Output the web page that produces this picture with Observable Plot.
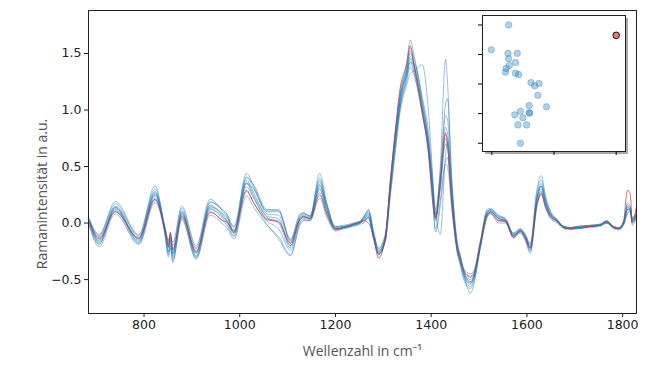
<!DOCTYPE html>
<html>
<head>
<meta charset="utf-8">
<script src="https://cdn.jsdelivr.net/npm/d3@7"></script>
<script src="https://cdn.jsdelivr.net/npm/@observablehq/plot@0.6"></script>
<style>
  html, body { margin: 0; padding: 0; background: white; }
  #wrap { position: relative; width: 659px; height: 366px; overflow: hidden; }
  #main, #inset, #shadow { position: absolute; }
  #main { left: 0; top: 0; }
  #shadow { left: 485px; top: 18px; width: 143px; height: 136px; background: #a9a9a9; }
  #inset { left: 475px; top: 13px; }
</style>
</head>
<body>
<div id="wrap">
  <div id="main"></div>
  <div id="shadow"></div>
  <div id="inset"></div>
</div>
<script>
// Wavenumber grid (cm^-1)
const wavenumbers = [686,706,740,789,823,844,851,855,860,879,
  909,938,965,973,988,1014,1029,1057,1081,1106,
  1126,1133,1147,1167,1182,1200,1217,1238,1252,1259,
  1269,1280,1290,1304,1315,1325,1335,1349,1356,1366,
  1381,1395,1402,1409,1419,1430,1434,1443,1454,1461,
  1468,1482,1489,1503,1517,1524,1541,1555,1572,1586,
  1597,1607,1621,1630,1639,1649,1663,1677,1691,1705,
  1733,1753,1767,1781,1792,1802,1810,1816,1820,1829];

// Highlighted (red) spectrum
const referenceSpectrum = [0.01,-0.14,0.10,-0.13,0.21,-0.07,-0.21,-0.08,-0.23,0.06,
  -0.25,0.10,0.02,0.01,-0.07,0.29,0.18,0.03,0.01,-0.18,
  0.03,0.05,0.04,0.25,0.08,-0.05,-0.04,-0.01,0.01,0.02,
  0.00,-0.13,-0.31,-0.13,0.38,0.82,1.19,1.41,1.57,1.35,
  0.99,0.58,0.23,0.04,0.38,0.80,0.70,0.17,-0.22,-0.33,
  -0.42,-0.48,-0.45,-0.17,0.08,0.09,0.02,0.02,-0.13,-0.07,
  -0.13,-0.22,0.17,0.26,0.14,0.06,0.02,-0.04,-0.05,-0.04,
  -0.03,-0.02,0.01,-0.04,-0.05,0.02,0.29,0.26,0.01,0.15];

// Other (blue) spectra
const blue01 = [0.03,-0.10,0.19,-0.10,0.33,-0.04,-0.15,-0.10,-0.17,0.15,
  -0.20,0.21,0.10,0.06,-0.04,0.44,0.33,0.10,0.10,-0.14,
  0.08,0.09,0.06,0.44,0.18,-0.03,-0.03,0.00,0.02,0.05,
  0.10,-0.10,-0.22,-0.10,0.40,0.80,1.15,1.42,1.62,1.45,
  1.10,0.72,0.40,0.12,0.45,1.05,1.10,0.38,-0.18,-0.30,
  -0.40,-0.45,-0.42,-0.15,0.12,0.13,0.07,0.04,-0.09,-0.05,
  -0.10,-0.18,0.30,0.42,0.24,0.11,0.03,-0.03,-0.04,-0.03,
  -0.02,-0.01,0.02,-0.03,-0.04,0.00,0.18,0.15,0.05,0.10];
const blue02 = [-0.03,-0.21,0.08,-0.19,0.18,-0.11,-0.30,-0.20,-0.33,0.03,
  -0.32,0.07,-0.01,-0.04,-0.14,0.24,0.14,-0.02,-0.12,-0.28,
  -0.02,0.02,0.02,0.22,0.05,-0.07,-0.05,-0.03,-0.01,0.00,
  0.05,-0.14,-0.28,-0.15,0.30,0.70,1.02,1.26,1.38,1.28,
  0.98,0.62,0.30,-0.05,0.20,0.52,0.50,0.12,-0.26,-0.38,
  -0.50,-0.58,-0.52,-0.22,0.05,0.08,0.00,0.00,-0.13,-0.09,
  -0.16,-0.27,0.14,0.25,0.13,0.04,0.00,-0.05,-0.06,-0.05,
  -0.04,-0.03,0.00,-0.05,-0.06,-0.02,0.08,0.10,-0.02,0.05];
const blue03 = [0.00,-0.12,0.15,-0.12,0.28,-0.05,-0.18,-0.12,-0.25,0.11,
  -0.26,0.16,0.07,0.03,-0.08,0.38,0.27,0.06,0.04,-0.20,
  0.05,0.07,0.05,0.36,0.13,-0.04,-0.03,-0.01,0.01,0.04,
  0.08,-0.12,-0.25,-0.12,0.36,0.76,1.10,1.35,1.50,1.38,
  1.05,0.68,0.35,0.06,0.35,0.85,0.80,0.26,-0.20,-0.32,
  -0.43,-0.50,-0.46,-0.18,0.10,0.11,0.05,0.03,-0.10,-0.06,
  -0.12,-0.21,0.24,0.35,0.20,0.09,0.03,-0.03,-0.04,-0.04,
  -0.03,-0.02,0.01,-0.04,-0.05,0.00,0.14,0.12,0.03,0.08];
const blue04 = [0.02,-0.17,0.12,-0.16,0.24,-0.08,-0.25,-0.14,-0.29,0.07,
  -0.29,0.12,0.04,0.00,-0.11,0.32,0.22,0.02,-0.05,-0.24,
  0.01,0.04,0.03,0.30,0.10,-0.06,-0.04,-0.02,0.00,0.03,
  0.06,-0.13,-0.26,-0.14,0.33,0.72,1.08,1.32,1.45,1.33,
  1.02,0.65,0.32,0.02,0.30,0.70,0.66,0.20,-0.23,-0.35,
  -0.46,-0.54,-0.49,-0.20,0.07,0.10,0.03,0.01,-0.11,-0.08,
  -0.14,-0.24,0.19,0.30,0.17,0.07,0.01,-0.04,-0.05,-0.04,
  -0.03,-0.02,0.01,-0.04,-0.05,-0.01,0.11,0.13,0.01,0.07];
const blue05 = [-0.02,-0.19,0.14,-0.17,0.26,-0.10,-0.28,-0.22,-0.35,0.10,
  -0.30,0.18,0.12,0.08,-0.09,0.40,0.34,0.12,0.12,-0.16,
  0.04,0.06,0.04,0.33,0.16,-0.06,-0.04,-0.02,0.00,0.02,
  0.04,-0.15,-0.27,-0.17,0.25,0.62,0.98,1.22,1.32,1.35,
  1.40,0.95,0.50,0.05,0.50,1.45,1.25,0.40,-0.15,-0.28,
  -0.44,-0.62,-0.55,-0.20,0.06,0.10,0.04,0.02,-0.12,-0.07,
  -0.13,-0.22,0.18,0.28,0.16,0.06,0.02,-0.04,-0.05,-0.05,
  -0.03,-0.02,0.00,-0.04,-0.05,-0.01,0.12,0.10,0.00,0.06];
const blue06 = [0.04,-0.13,0.11,-0.14,0.22,-0.06,-0.20,-0.16,-0.27,0.05,
  -0.23,0.14,0.08,0.05,-0.06,0.35,0.30,0.08,0.07,-0.17,
  0.06,0.08,0.06,0.38,0.15,-0.04,-0.03,-0.01,0.01,0.05,
  0.12,-0.08,-0.24,-0.16,0.28,0.66,1.02,1.28,1.42,1.40,
  1.12,0.78,0.45,0.10,-0.10,0.60,0.72,0.32,-0.17,-0.30,
  -0.42,-0.52,-0.48,-0.19,0.09,0.12,0.06,0.03,-0.10,-0.06,
  -0.11,-0.20,0.22,0.33,0.19,0.08,0.03,-0.03,-0.04,-0.03,
  -0.02,-0.01,0.02,-0.03,-0.04,0.01,0.16,0.14,0.04,0.09];
const blue07 = [0.01,-0.15,0.13,-0.14,0.25,-0.06,-0.19,-0.09,-0.24,0.08,
  -0.26,0.13,0.05,0.02,-0.08,0.35,0.23,0.04,0.02,-0.20,
  0.03,0.06,0.04,0.31,0.11,-0.05,-0.04,-0.01,0.01,0.03,
  0.07,-0.12,-0.28,-0.13,0.35,0.78,1.12,1.36,1.52,1.36,
  1.00,0.63,0.30,0.04,0.32,0.75,0.70,0.22,-0.21,-0.33,
  -0.44,-0.52,-0.47,-0.18,0.08,0.10,0.04,0.02,-0.11,-0.07,
  -0.13,-0.22,0.21,0.32,0.18,0.07,0.02,-0.04,-0.05,-0.04,
  -0.03,-0.02,0.01,-0.04,-0.05,0.00,0.13,0.11,0.02,0.08];
const blue08 = [-0.01,-0.18,0.10,-0.18,0.20,-0.09,-0.26,-0.18,-0.31,0.04,
  -0.31,0.09,0.02,-0.02,-0.12,0.28,0.18,-0.01,-0.14,-0.29,
  0.00,0.03,0.02,0.27,0.07,-0.06,-0.05,-0.02,0.00,0.02,
  0.05,-0.14,-0.27,-0.15,0.31,0.70,1.05,1.30,1.42,1.30,
  0.97,0.60,0.28,-0.08,0.15,0.55,0.58,0.18,-0.24,-0.36,
  -0.48,-0.56,-0.50,-0.21,0.06,0.09,0.02,0.01,-0.12,-0.08,
  -0.15,-0.25,0.16,0.27,0.15,0.05,0.01,-0.04,-0.05,-0.05,
  -0.03,-0.02,0.00,-0.04,-0.05,-0.01,0.09,0.11,0.00,0.06];
const blue09 = [0.02,-0.11,0.17,-0.11,0.30,-0.04,-0.16,-0.11,-0.20,0.13,
  -0.22,0.19,0.11,0.08,-0.03,0.41,0.31,0.11,0.11,-0.15,
  0.07,0.09,0.06,0.40,0.16,-0.03,-0.02,0.00,0.02,0.06,
  0.11,-0.09,-0.23,-0.11,0.38,0.79,1.13,1.38,1.55,1.42,
  1.08,0.70,0.38,0.08,0.40,0.95,0.92,0.30,-0.19,-0.31,
  -0.41,-0.47,-0.44,-0.16,0.11,0.12,0.06,0.04,-0.09,-0.05,
  -0.11,-0.19,0.27,0.38,0.22,0.10,0.03,-0.03,-0.04,-0.03,
  -0.02,-0.01,0.02,-0.03,-0.04,0.01,0.15,0.13,0.04,0.09];
const blue10 = [0.00,-0.16,0.14,-0.15,0.27,-0.07,-0.22,-0.13,-0.27,0.09,
  -0.27,0.15,0.06,0.02,-0.09,0.36,0.25,0.05,0.00,-0.22,
  0.04,0.06,0.04,0.34,0.12,-0.05,-0.04,-0.01,0.01,0.04,
  0.09,-0.11,-0.26,-0.13,0.34,0.74,1.08,1.33,1.47,1.36,
  1.03,0.66,0.34,0.05,0.33,0.78,0.75,0.24,-0.22,-0.34,
  -0.45,-0.53,-0.48,-0.19,0.09,0.11,0.04,0.02,-0.11,-0.07,
  -0.13,-0.23,0.22,0.33,0.18,0.08,0.02,-0.04,-0.05,-0.04,
  -0.03,-0.02,0.01,-0.04,-0.05,0.00,0.12,0.12,0.02,0.07];
const sampleSpectra = [blue01, blue02, blue03, blue04, blue05, blue06, blue07, blue08, blue09, blue10];

// Axis ticks and labels
const xTicks = [800, 1000, 1200, 1400, 1600, 1800];
const yTicks = [-0.5, 0.0, 0.5, 1.0, 1.5];
const xLabel = ["Wellenzahl in cm⁻¹"];
const yLabel = ["Ramanintensität in a.u."];

// Inset scatter (score plot)
const insetX = [0.27,-0.01,0.26,0.41,0.27,0.38,0.28,0.23,0.22,0.38,
  0.43,0.63,0.69,0.76,0.74,0.88,0.60,0.46,0.37,0.60,0.61,0.50,0.42,0.56,0.46];
const insetY = [4.00,3.16,3.04,3.04,2.86,2.73,2.63,2.53,2.40,2.37,
  2.32,2.05,1.94,2.02,1.62,1.23,1.27,1.08,0.96,1.03,1.02,0.86,0.62,0.62,0.00];
const insetRefX = [2.0];
const insetRefY = [3.65];
const insetXTicks = [0, 1, 2];
const insetYTicks = [0, 1, 2, 3, 4];

// Build tidy rows
const blueRows = [];
sampleSpectra.forEach((s, i) => s.forEach((v, j) => blueRows.push({wn: wavenumbers[j], v, s: i})));
const redRows = referenceSpectrum.map((v, j) => ({wn: wavenumbers[j], v}));
const insetRows = insetX.map((x, i) => ({x, y: insetY[i]}));
const insetRefRows = insetRefX.map((x, i) => ({x, y: insetRefY[i]}));

const labelFont = "Open Sans, Noto Sans, sans-serif";

const main = Plot.plot({
  width: 659,
  height: 366,
  marginTop: 10,
  marginRight: 23,
  marginBottom: 53,
  marginLeft: 88,
  style: {fontFamily: "DejaVu Sans, sans-serif", fontSize: "12.5px", color: "#222", background: "transparent", overflow: "visible"},
  x: {domain: [684, 1829]},
  y: {domain: [-0.80, 1.88]},
  marks: [
    Plot.frame({stroke: "#222", strokeWidth: 1}),
    Plot.axisX({ticks: xTicks, tickSize: 4, tickPadding: 3, tickFormat: d3.format("d"), label: null}),
    Plot.axisY({ticks: yTicks, tickSize: 4, tickPadding: 3, tickFormat: d3.format(".1f"), label: null}),
    Plot.line(blueRows, {x: "wn", y: "v", z: "s", stroke: "#1f77b4", strokeOpacity: 0.5, strokeWidth: 0.9, curve: "monotone-x", clip: true}),
    Plot.line(redRows, {x: "wn", y: "v", stroke: "#d62728", strokeOpacity: 0.75, strokeWidth: 0.9, curve: "monotone-x", clip: true}),
    Plot.text(xLabel, {frameAnchor: "bottom", dy: 42, text: d => d, textAnchor: "middle", fill: "#555", fontSize: 14, fontFamily: labelFont}),
    Plot.text(yLabel, {frameAnchor: "left", dx: -46, dy: 32, rotate: -90, text: d => d, textAnchor: "middle", fill: "#555", fontSize: 14, fontFamily: labelFont})
  ]
});
document.getElementById("main").appendChild(main);

const inset = Plot.plot({
  width: 156,
  height: 145,
  marginTop: 2,
  marginRight: 6,
  marginBottom: 7,
  marginLeft: 7,
  style: {background: "transparent", overflow: "visible"},
  x: {domain: [-0.15, 2.15]},
  y: {domain: [-0.28, 4.32]},
  marks: [
    Plot.frame({fill: "white", stroke: "#222", strokeWidth: 1}),
    Plot.axisX({ticks: insetXTicks, tickSize: 4, tickFormat: () => "", label: null}),
    Plot.axisY({ticks: insetYTicks, tickSize: 4, tickFormat: () => "", label: null}),
    Plot.dot(insetRows, {x: "x", y: "y", r: 3.3, fill: "#1f77b4", fillOpacity: 0.35, stroke: "#1f77b4", strokeOpacity: 0.35, strokeWidth: 0.8}),
    Plot.dot(insetRefRows, {x: "x", y: "y", r: 3.3, fill: "#e8797a", stroke: "#111", strokeWidth: 1})
  ]
});
document.getElementById("inset").appendChild(inset);
</script>
</body>
</html>
